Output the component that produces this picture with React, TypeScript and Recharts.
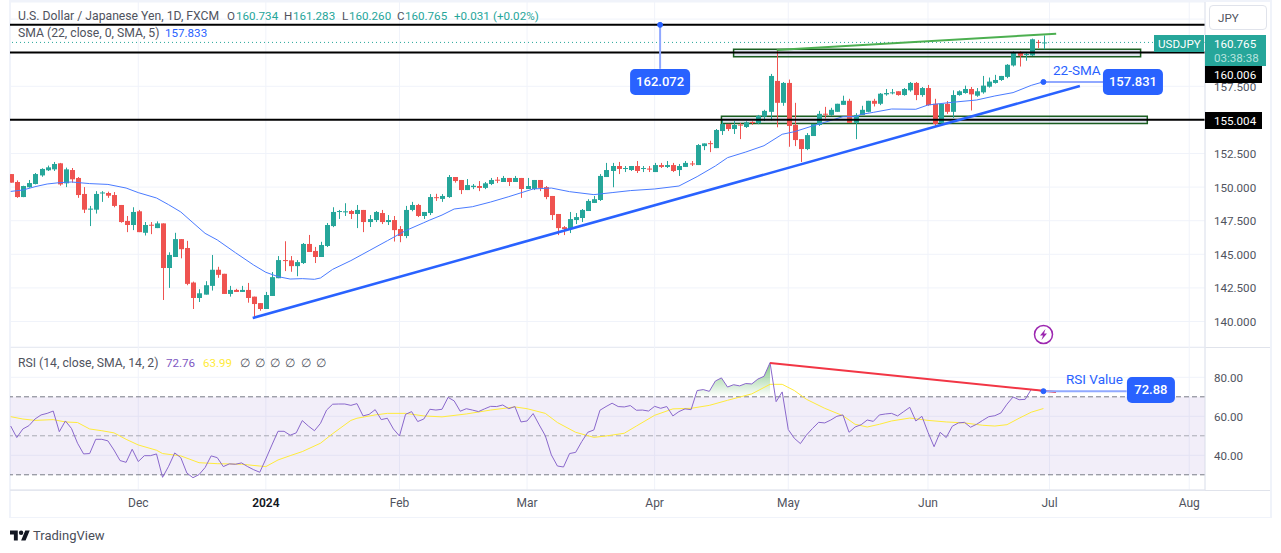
import { Area, Bar, CartesianGrid, ComposedChart, Line, ReferenceArea, ReferenceDot, ReferenceLine, XAxis, YAxis } from 'recharts';

const FONT = 'Roboto, sans-serif';
const BLUE = '#2962ff';
const UP = '#26a69a';
const DOWN = '#ef5350';

// daily candles, Nov 2023 -> 28 Jun 2024
const opens = [
  150.97,150.38,149.26,149.99,150.23,150.87,151.25,151.32,151.77,150.28,
  151.27,150.68,149.49,148.32,148.32,149.58,149.56,149.41,148.67,147.48,
  147.18,148.2,146.6,147.2,146.95,147.3,143.98,144.8,146.13,145.47,
  142.9,141.75,142.0,142.65,143.85,143.55,142.05,142.35,142.2,142.35,
  141.85,141.37,140.93,141.9,143.22,144.57,144.55,144.12,144.35,145.77,
  145.25,144.8,145.62,147.1,148.15,148.12,148.22,148.0,148.3,147.4,
  147.55,148.07,147.4,147.55,146.88,146.36,148.3,148.67,147.85,148.07,
  149.25,149.12,149.26,150.75,150.53,149.78,150.0,150.08,149.94,150.23,
  150.55,150.38,150.68,150.38,150.68,149.86,149.86,150.53,150.0,149.34,
  148.0,147.02,146.88,147.55,147.7,148.22,148.82,149.04,150.75,151.2,
  151.57,151.35,151.27,151.57,151.35,151.38,151.12,151.64,151.5,151.64,
  151.27,151.5,151.76,151.64,153.05,153.27,152.9,154.17,154.7,154.32,
  154.65,154.47,154.85,154.75,155.25,155.6,157.9,156.27,157.75,154.63,
  153.57,152.83,153.8,154.62,155.46,155.37,155.6,156.12,156.42,154.78,
  155.37,155.6,156.42,156.2,156.9,156.98,157.13,156.85,157.2,157.75,
  156.85,157.37,156.2,154.78,156.2,155.6,156.85,157.0,157.3,156.8,
  157.05,157.47,157.75,157.97,158.2,159.05,160.0,159.85,159.8,160.8,
  160.734,
];
const closes = [
  150.33,149.26,150.08,150.3,150.97,151.35,151.47,151.72,150.2,151.32,
  150.58,149.41,148.32,148.4,149.49,149.6,149.36,148.6,147.4,147.18,
  148.15,146.65,147.18,147.15,147.3,143.98,144.95,146.13,145.38,142.8,
  141.75,142.1,142.7,143.85,143.47,142.05,142.35,142.2,142.35,141.75,
  141.3,140.93,141.97,143.3,144.57,144.5,144.12,144.42,145.77,145.17,
  144.8,145.69,147.18,148.15,148.22,148.2,148.0,148.3,147.4,147.62,
  148.15,147.4,147.55,146.8,146.36,148.3,148.67,147.85,148.15,149.26,
  149.2,149.34,150.75,150.45,149.78,150.15,150.1,149.94,150.28,150.53,
  150.48,150.68,150.38,150.68,149.86,150.08,150.53,149.94,149.26,147.92,
  146.95,146.88,147.62,147.77,148.3,148.97,149.1,150.83,151.27,151.57,
  151.35,151.42,151.57,151.2,151.42,151.3,151.64,151.5,151.64,151.2,
  151.57,151.8,151.7,153.13,153.25,153.2,154.25,154.7,154.32,154.62,
  154.6,154.82,154.78,155.3,155.67,158.27,156.27,157.75,154.55,153.5,
  152.83,153.87,154.7,155.45,155.4,155.75,156.2,156.42,154.78,155.37,
  155.75,156.42,156.2,156.95,157.0,157.05,156.85,157.3,157.75,156.85,
  157.37,156.1,154.7,156.2,155.6,156.85,157.13,157.3,156.9,157.13,
  157.55,157.85,157.97,158.27,159.1,160.02,159.77,159.9,161.0,160.73,
  160.765,
];
const highs = [
  150.97,150.5,150.1,150.53,151.05,151.4,151.6,151.87,151.8,151.45,
  151.42,150.75,150.0,148.6,149.7,149.7,149.66,149.63,148.67,147.85,
  148.5,148.3,147.4,147.4,147.45,147.3,145.15,146.6,146.13,146.0,
  142.97,142.4,143.0,144.95,144.07,143.55,142.65,142.43,142.65,142.87,
  141.85,141.37,142.2,143.68,144.87,145.97,144.87,144.57,145.84,146.44,
  145.55,145.93,147.33,148.5,148.3,148.8,148.3,148.67,148.3,147.92,
  148.22,148.3,147.92,147.85,147.1,148.6,148.9,148.75,148.15,149.48,
  149.5,149.48,150.9,150.75,150.53,150.6,150.23,150.45,150.38,150.68,
  150.75,150.83,150.68,150.83,150.68,150.68,150.53,150.53,150.08,149.34,
  148.0,147.1,148.15,148.07,148.37,149.1,149.34,150.97,151.8,151.8,
  151.87,151.57,151.57,151.94,151.57,151.57,151.8,151.8,151.94,151.8,
  151.72,151.94,151.94,153.2,153.25,153.45,154.32,155.0,154.7,154.92,
  154.77,154.9,154.9,155.37,155.75,158.42,160.2,157.82,158.0,156.27,
  153.57,154.02,154.7,155.67,155.97,155.9,156.2,156.8,156.57,155.5,
  156.05,156.42,156.57,157.0,157.3,157.3,157.13,157.37,157.82,157.82,
  157.45,157.6,156.57,156.2,156.4,157.2,157.2,157.55,157.45,157.37,
  158.27,158.15,158.35,158.27,159.15,160.1,160.1,160.0,161.05,160.95,
  161.283,
];
const lows = [
  150.33,149.2,149.25,149.95,150.2,150.77,151.2,151.2,150.1,150.0,
  150.33,149.2,148.07,147.1,148.03,148.9,149.2,148.5,147.35,146.65,
  146.8,146.65,146.4,146.5,146.95,141.6,142.5,144.8,144.7,142.7,
  140.93,141.45,142.0,142.3,143.25,142.05,141.85,142.2,142.2,141.4,
  140.25,140.8,140.93,141.9,143.22,143.75,143.7,143.37,144.28,145.17,
  144.35,144.8,145.54,147.02,147.63,147.85,147.63,146.95,146.65,147.03,
  147.4,147.25,147.18,145.95,145.9,146.2,148.2,147.77,147.63,147.92,
  148.97,148.9,149.2,150.33,149.48,149.78,149.85,149.7,149.85,150.15,
  150.3,150.38,150.08,150.38,149.2,149.86,149.78,149.7,149.1,147.55,
  146.43,146.43,146.58,147.25,147.4,148.22,148.82,148.97,150.75,149.99,
  150.97,151.12,151.2,151.05,151.12,151.12,151.12,151.42,151.42,151.12,
  150.83,151.5,151.57,151.64,152.75,152.6,152.9,153.88,154.17,153.95,
  153.57,154.4,154.63,154.68,154.92,154.95,154.45,156.05,153.0,153.05,
  151.87,152.75,153.8,154.55,155.1,155.3,155.6,156.12,154.78,153.57,
  155.37,155.57,156.0,156.1,156.8,156.9,156.8,156.8,157.1,156.47,
  156.72,156.05,154.55,154.75,155.45,155.15,156.8,156.95,155.7,156.72,
  156.95,157.4,157.7,157.9,158.1,158.97,158.97,159.4,159.75,160.35,
  160.26,
];

// SMA 22 read at the places where the line bends
const smaIdx = [0,2,4,6,8,10,13,16,19,21,24,26,28,30,32,34,37,40,42,44,46,48,50,51,53,56,59,62,65,68,69,71,73,76,79,82,86,89,92,96,99,102,106,110,113,116,118,121,124,127,129,132,134,137,139,140,142,145,149,151,155,159,162,165,168,170];
const smaVals = [149.68,149.78,150.03,150.23,150.33,150.38,150.26,150.2,149.93,149.59,149.19,148.69,148.15,147.35,146.56,146.07,145.12,144.2,143.66,143.34,143.16,143.19,143.14,143.24,143.88,144.53,145.27,146.01,146.76,147.35,147.55,147.92,148.37,148.54,148.89,149.29,149.86,149.93,149.66,149.44,149.59,149.74,149.86,150.08,150.78,151.57,152.19,152.61,153.08,153.93,154.12,154.55,154.82,155.24,155.24,155.41,155.56,155.81,155.79,156.11,156.31,156.48,156.78,157.03,157.57,157.833];

const rsiVals = [
  55.0,49.1,53.5,55.2,58.6,60.7,61.5,62.7,52.1,57.6,
  53.8,46.2,40.7,40.9,48.2,48.2,47.4,42.7,37.3,36.4,
  43.1,36.8,39.8,39.8,40.7,28.7,34.4,41.2,38.8,30.9,
  28.5,30.1,33.7,39.7,38.8,34.2,35.6,35.4,36.1,34.2,
  32.6,31.3,38.1,45.3,52.3,52.3,50.3,51.5,57.8,55.0,
  52.6,56.4,63.2,66.2,66.3,66.3,65.6,66.5,60.2,61.0,
  63.4,58.3,59.0,53.5,49.9,61.0,62.4,57.3,58.6,63.6,
  63.2,63.6,69.7,67.9,62.6,63.9,63.2,62.4,63.8,65.1,
  65.0,65.8,63.9,65.0,57.1,57.6,61.4,55.6,50.1,40.2,
  34.5,34.0,40.9,41.5,47.0,51.8,53.0,63.1,65.0,66.7,
  65.0,64.8,65.5,63.1,63.2,62.7,65.1,64.1,65.0,60.2,
  62.4,63.8,63.4,73.2,73.7,72.8,78.1,79.7,75.0,76.2,
  75.6,76.8,76.6,79.1,80.5,87.5,67.5,72.5,53.2,48.7,
  46.0,50.4,53.8,56.9,56.6,58.1,60.0,60.7,51.8,54.5,
  55.7,58.1,57.4,60.7,61.2,61.5,60.2,62.4,64.6,57.6,
  60.0,51.8,44.4,51.8,49.1,54.9,56.6,56.9,54.4,55.9,
  57.9,59.8,60.3,61.7,66.2,69.9,68.5,68.7,73.8,73.3,
  72.76,
];
const rsiMaIdx = [0,2,4,7,9,11,13,15,17,19,21,24,25,28,31,34,38,41,42,44,46,48,51,53,56,57,60,62,65,68,71,75,79,83,85,88,90,93,96,98,101,103,106,109,112,115,118,122,125,127,129,131,134,137,139,141,143,145,148,151,154,157,160,162,164,166,168,170];
const rsiMaVals = [59.8,58.6,57.9,58.3,57.1,56.8,53.5,52.6,51.5,48.2,45.3,42.6,40.9,39.7,36.2,35.7,35.4,34.5,34.2,37.6,39.8,41.9,46.2,51.1,57.9,59.0,60.7,61.5,61.5,60.2,59.7,61.2,63.2,64.8,63.9,61.5,56.8,51.8,49.2,49.9,51.3,55.0,60.5,63.8,64.1,65.6,68.2,71.5,76.4,76.4,73.2,68.7,64.1,60.3,55.9,54.5,55.9,57.6,59.1,57.9,57.1,56.6,55.4,55.0,55.7,59.0,62.1,63.99];

const monthTicks = [21, 42, 64, 85, 106, 128, 151, 171, 194];
const monthLabels = ['Dec', '2024', 'Feb', 'Mar', 'Apr', 'May', 'Jun', 'Jul', 'Aug'];
const priceTicks = [140, 142.5, 145, 147.5, 150, 152.5, 155, 157.5, 160, 162.5];
const rsiTicks = [40, 60, 80];
const levels = [162.072, 160.006, 155.004];

const rows = opens.map((o, i) => {
  const s = smaIdx.indexOf(i);
  const m = rsiMaIdx.indexOf(i);
  return {
    i,
    o,
    c: closes[i],
    h: highs[i],
    l: lows[i],
    range: [lows[i], highs[i]],
    sma: s >= 0 ? smaVals[s] : null,
    rsi: rsiVals[i],
    rsiMa: m >= 0 ? rsiMaVals[m] : null,
    over: i >= 113 && i <= 125 ? [70, rsiVals[i]] : null,
  };
});

const Candle = (props: any) => {
  const { x, y, width, height, payload } = props;
  const { o, c, h, l } = payload;
  const k = height / (h - l);
  const cx = Math.round(x + width / 2) + 0.5;
  const top = y + (h - Math.max(o, c)) * k;
  const bodyH = Math.max(Math.abs(o - c) * k, 1);
  const color = c >= o ? UP : DOWN;
  return (
    <g>
      <line x1={cx} x2={cx} y1={y} y2={y + height} stroke={color} strokeWidth={1} />
      <rect x={cx - 2.5} y={top} width={5} height={bodyH} fill={color} />
    </g>
  );
};

const Badge = ({ cx, cy, label, w }: any) => (
  <g>
    <rect x={cx - w / 2} y={cy - 13} width={w} height={26} rx={5} fill={BLUE} />
    <text x={cx} y={cy + 4.5} textAnchor="middle" fill="#fff" fontSize={13} fontWeight={500} fontFamily={FONT}>{label}</text>
  </g>
);

const Note = ({ cx, cy, label }: any) => (
  <text x={cx} y={cy + 5} textAnchor="middle" fill={BLUE} fontSize={13.5} fontFamily={FONT}>{label}</text>
);

const ValueTick = ({ x, y, payload, max }: any) =>
  payload.value >= max ? <g /> : (
    <text x={x} y={y + 4.5} fill="#50535e" fontSize={11.6} fontFamily={FONT}>
      {payload.value.toFixed(max === 100 ? 2 : 3)}
    </text>
  );

const MonthTick = ({ x, y, payload }: any) => {
  const label = monthLabels[monthTicks.indexOf(payload.value)];
  const bold = label === '2024';
  return (
    <text x={x} y={y + 4} textAnchor="middle" fill={bold ? '#131722' : '#50535e'} fontWeight={bold ? 600 : 400} fontSize={12} fontFamily={FONT}>
      {label}
    </text>
  );
};

const T = ({ x, y, c = '#50535e', size = 11.6, w = 400, children }: any) => (
  <span style={{ position: 'absolute', left: x, top: y - 8, lineHeight: '16px', fontSize: size, fontWeight: w, color: c, fontFamily: FONT, whiteSpace: 'nowrap' }}>
    {children}
  </span>
);

const Box = ({ x, y, w, h, bg, children }: any) => (
  <div style={{ position: 'absolute', left: x, top: y, width: w, height: h, background: bg }}>{children}</div>
);

export default function App() {
  const xDomain: [number, number] = [-0.115, 196.6];
  return (
    <div style={{ position: 'absolute', left: 0, top: 0, width: 1281, height: 553, background: '#fff', overflow: 'hidden' }}>
      {/* frame */}
      <Box x={9} y={0} w={1262} h={2} bg="#f0f3fa" />
      <Box x={9} y={0} w={1.5} h={518} bg="#f0f3fa" />
      <Box x={1270} y={0} w={1.5} h={518} bg="#f0f3fa" />
      <Box x={9} y={516.5} w={1262} h={1.5} bg="#f0f3fa" />
      <Box x={10} y={346.5} w={1260} h={1} bg="#e0e3eb" />
      <Box x={10} y={490} w={1260} h={1} bg="#e0e3eb" />

      <div style={{ position: 'absolute', left: 10, top: 2 }}>
        <ComposedChart width={1260} height={345} data={rows} margin={{ top: 0, right: 0, bottom: 0, left: 0 }}>
          <CartesianGrid stroke="#f0f3fa" />
          <XAxis dataKey="i" type="number" domain={xDomain} ticks={monthTicks} interval={0} allowDataOverflow hide />
          <YAxis orientation="right" width={65} domain={[138.103, 163.772]} ticks={priceTicks} interval={0} allowDataOverflow axisLine={{ stroke: '#e0e3eb' }} tickLine={false} tickSize={0} tickMargin={9} tick={<ValueTick max={160} />} />
          <Bar dataKey="range" barSize={5} shape={<Candle />} isAnimationActive={false} />
          <Line dataKey="sma" stroke="#4a7bff" strokeWidth={1} dot={false} connectNulls isAnimationActive={false} />
          <ReferenceLine y={160.765} stroke={UP} strokeDasharray="1 3" />
          {levels.map((v) => (
            <ReferenceLine key={v} y={v} stroke="#000" strokeWidth={2} />
          ))}
          <ReferenceArea x1={119} x2={186} y1={159.7} y2={160.25} fill="#1a4a8a" fillOpacity={0.14} stroke="#1b5e20" strokeWidth={1.5} strokeOpacity={1} />
          <ReferenceArea x1={117} x2={187.1} y1={154.73} y2={155.27} fill="#1a4a8a" fillOpacity={0.14} stroke="#1b5e20" strokeWidth={1.5} strokeOpacity={1} />
          <ReferenceLine segment={[{ x: 39.84, y: 140.26 }, { x: 176, y: 157.52 }]} stroke={BLUE} strokeWidth={2.5} />
          <ReferenceLine segment={[{ x: 126.1, y: 160.2 }, { x: 172.1, y: 161.41 }]} stroke="#4caf50" strokeWidth={2} />
          <ReferenceLine segment={[{ x: 106.9, y: 162.072 }, { x: 106.9, y: 158.8 }]} stroke="#90a8ff" strokeWidth={2} />
          <ReferenceLine segment={[{ x: 170, y: 157.82 }, { x: 180, y: 157.82 }]} stroke="#90a8ff" strokeWidth={2} />
          <ReferenceDot x={106.9} y={162.072} r={2.5} fill={BLUE} stroke={BLUE} />
          <ReferenceDot x={170} y={157.82} r={2.5} fill={BLUE} stroke={BLUE} />
          <ReferenceDot x={106.9} y={157.82} shape={(p: any) => <Badge {...p} w={60} label="162.072" />} />
          <ReferenceDot x={184.74} y={157.82} shape={(p: any) => <Badge {...p} w={60} label="157.831" />} />
          <ReferenceDot x={175.5} y={158.71} shape={(p: any) => <Note {...p} label="22-SMA" />} />
        </ComposedChart>
      </div>

      <div style={{ position: 'absolute', left: 10, top: 347 }}>
        <ComposedChart width={1260} height={170} data={rows} margin={{ top: 0, right: 0, bottom: 0, left: 0 }}>
          <defs>
            <linearGradient id="overbought" x1="0" y1="0" x2="0" y2="1">
              <stop offset="0%" stopColor="#4caf50" stopOpacity={0.7} />
              <stop offset="100%" stopColor="#4caf50" stopOpacity={0} />
            </linearGradient>
          </defs>
          <CartesianGrid stroke="#f0f3fa" />
          <XAxis dataKey="i" type="number" domain={xDomain} ticks={monthTicks} interval={0} allowDataOverflow height={27} axisLine={{ stroke: '#e0e3eb' }} tickLine={false} tickSize={0} tickMargin={13} tick={<MonthTick />} />
          <YAxis orientation="right" width={65} domain={[22.2, 95.54]} ticks={rsiTicks} interval={0} allowDataOverflow axisLine={{ stroke: '#e0e3eb' }} tickLine={false} tickSize={0} tickMargin={9} tick={<ValueTick max={100} />} />
          <ReferenceArea y1={30} y2={70} fill="#7e57c2" fillOpacity={0.1} stroke="none" />
          <ReferenceLine y={70} stroke="#787b86" strokeDasharray="5 3" />
          <ReferenceLine y={50} stroke="#787b86" strokeOpacity={0.6} strokeDasharray="5 3" />
          <ReferenceLine y={30} stroke="#787b86" strokeDasharray="5 3" />
          <Area dataKey="over" stroke="none" fill="url(#overbought)" fillOpacity={1} dot={false} activeDot={false} isAnimationActive={false} />
          <Line dataKey="rsiMa" stroke="#ffeb3b" strokeWidth={1} dot={false} connectNulls isAnimationActive={false} />
          <Line dataKey="rsi" stroke="#8a68cc" strokeWidth={1} dot={false} isAnimationActive={false} />
          <ReferenceLine segment={[{ x: 125, y: 87.3 }, { x: 172.07, y: 72.46 }]} stroke="#f23645" strokeWidth={2} />
          <ReferenceLine segment={[{ x: 170, y: 72.88 }, { x: 183.7, y: 72.88 }]} stroke="#90a8ff" strokeWidth={2} />
          <ReferenceDot x={170} y={72.88} r={2.5} fill={BLUE} stroke={BLUE} />
          <ReferenceDot x={187.7} y={73.5} shape={(p: any) => <Badge {...p} w={48} label="72.88" />} />
          <ReferenceDot x={178.4} y={79.1} shape={(p: any) => <Note {...p} label="RSI Value" />} />
        </ComposedChart>
      </div>

      {/* legend rows */}
      <T x={18} y={15.5} size={12.2}>U.S. Dollar / Japanese Yen, 1D, FXCM</T>
      <T x={227} y={15.5}>O</T><T x={236} y={15.5} c={UP}>160.734</T>
      <T x={284} y={15.5}>H</T><T x={293} y={15.5} c={UP}>161.283</T>
      <T x={342} y={15.5}>L</T><T x={349} y={15.5} c={UP}>160.260</T>
      <T x={397} y={15.5}>C</T><T x={405} y={15.5} c={UP}>160.765</T>
      <T x={454} y={15.5} c={UP}>+0.031</T><T x={493} y={15.5} c={UP}>(+0.02%)</T>
      <T x={18} y={32.5} size={12.2}>SMA (22, close, 0, SMA, 5)</T>
      <T x={165} y={32.5} c={BLUE}>157.833</T>
      <T x={18} y={363} size={12.2}>RSI (14, close, SMA, 14, 2)</T>
      <T x={166} y={363} c="#7e57c2">72.76</T>
      <T x={203} y={363} c="#ffeb3b">63.99</T>
      <T x={240} y={363}>∅</T><T x={255} y={363}>∅</T><T x={270} y={363}>∅</T><T x={285} y={363}>∅</T><T x={301} y={363}>∅</T><T x={316} y={363}>∅</T>

      {/* price scale */}
      <div style={{ position: 'absolute', left: 1209, top: 5, width: 58, height: 25, boxSizing: 'border-box', border: '1px solid #e0e3eb', borderRadius: 4, background: '#fff' }} />
      <T x={1218} y={18}>JPY</T>
      <Box x={1154} y={35} w={50} h={17} bg={UP} />
      <T x={1158} y={43.5} c="#fff">USDJPY</T>
      <Box x={1205} y={35} w={61} h={30.5} bg={UP} />
      <T x={1214} y={43.5} c="#fff">160.765</T>
      <T x={1214} y={57.5} c="#b5e3de">03:38:38</T>
      <Box x={1205} y={66} w={57} h={17} bg="#000" />
      <T x={1214} y={74.5} c="#fff">160.006</T>
      <Box x={1205} y={112} w={57} h={17} bg="#000" />
      <T x={1214} y={120.5} c="#fff">155.004</T>

      {/* lightning mark */}
      <svg style={{ position: 'absolute', left: 1033, top: 324 }} width={21} height={21} viewBox="0 0 21 21">
        <circle cx={10.5} cy={10.5} r={9} fill="#fff" stroke="#9c27b0" strokeWidth={1.5} />
        <path d="M12.5 5 L7 11.5 H10 L8.5 16 L14 9.5 H11 Z" fill="#9c27b0" />
      </svg>

      {/* TradingView mark */}
      <svg style={{ position: 'absolute', left: 10, top: 530 }} width={20} height={11} viewBox="0 4 36 18">
        <path d="M14 22H7V11H0V4h14v18zM28 22h-8l7.5-18h8L28 22z" fill="#131722" />
        <circle cx={20} cy={8} r={4} fill="#131722" />
      </svg>
      <T x={33} y={535.5} size={13} c="#4a4e59">TradingView</T>
    </div>
  );
}
